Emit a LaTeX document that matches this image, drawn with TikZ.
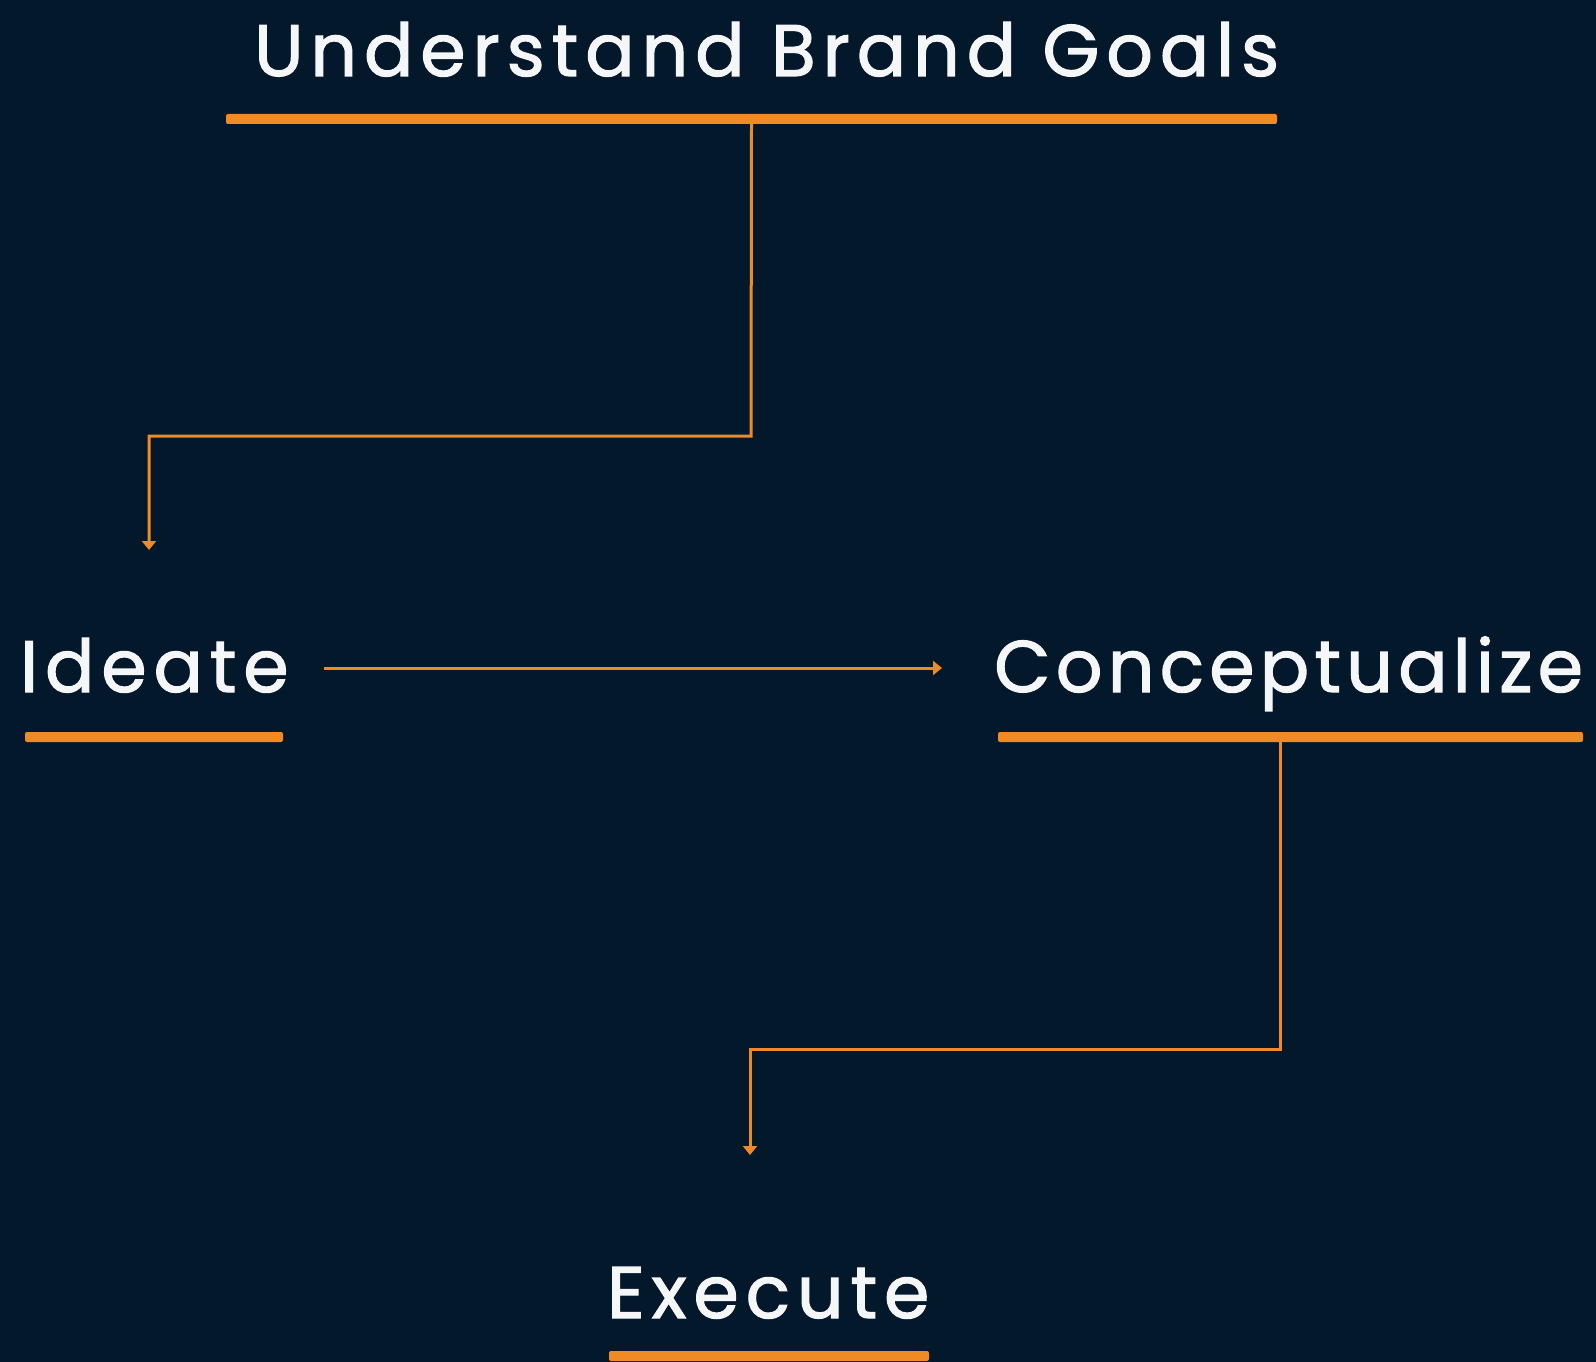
\documentclass[tikz,border=0pt]{standalone}
\usepackage{fontspec}
\setmainfont{Poppins}[LetterSpace=9.5,FakeBold=1.6]
\usetikzlibrary{arrows.meta,calc}
\definecolor{bg}{HTML}{03182B}
\definecolor{org}{HTML}{F08A24}
\definecolor{txt}{HTML}{F4F6F8}
\tikzset{
  x=1pt,y=-1pt,
  label text/.style={text=txt,font=\fontsize{73}{80}\selectfont,inner sep=0pt,anchor=base west},
  bar/.style={fill=org,inner sep=0pt,minimum height=10pt,rounded corners=2pt},
  conn/.style={draw=org,line width=3pt,-{Triangle[width=14pt,length=9pt]}},
}
\begin{document}
\begin{tikzpicture}
\fill[bg] (0,0) rectangle (1596,1362);
\useasboundingbox (0,0) rectangle (1596,1362);
% texts
\node[label text] (t1) at (254,76) {Understand Brand Goals};
\node[label text] (t2) at (20,692) {Ideate};
\node[label text] (t3) at (994,692) {\addfontfeature{LetterSpace=7.2}Conceptualize};
\node[label text] (t4) at (607,1318) {Execute};
% underlines
\node[bar,minimum width=1051pt] (u1) at (751.5,119) {};
\node[bar,minimum width=258pt] (u2) at (154,737) {};
\node[bar,minimum width=585pt] (u3) at (1290.5,737) {};
\node[bar,minimum width=320pt] (u4) at (769,1356) {};
% connector coordinates
\coordinate (a1) at (149,550);
\coordinate (b0) at (324,668);
\coordinate (b1) at (942,668);
\coordinate (c0) at (1280,742);
\coordinate (c1) at (750,1155);
\draw[conn] (u1.south) -- (751,436) -| (a1);
\draw[conn] (b0) -- (b1);
\draw[conn] (c0) -- (1280,1049) -| (c1);
\end{tikzpicture}
\end{document}
